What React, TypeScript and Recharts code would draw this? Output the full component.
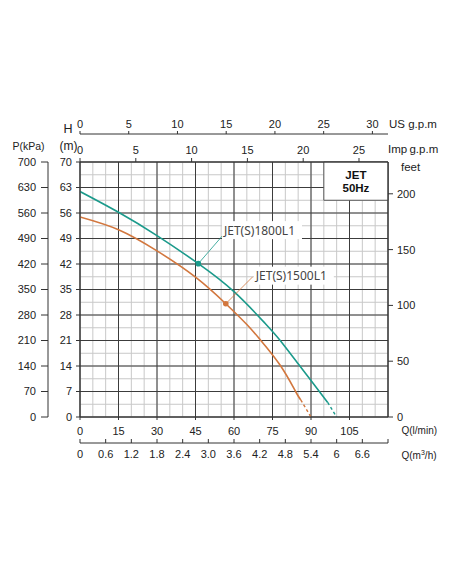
import React from "react";
import {
  LineChart,
  Line,
  XAxis,
  YAxis,
  CartesianGrid,
  ReferenceArea,
  ReferenceLine,
  ReferenceDot,
} from "recharts";

// axis ticks
const flowTicks = [0, 15, 30, 45, 60, 75, 90, 105];
const flowMinorTicks = [0, 5, 10, 15, 20, 25, 30, 35, 40, 45, 50, 55, 60, 65, 70, 75, 80, 85, 90, 95, 100, 105, 110, 115, 120];
const headTicks = [0, 7, 14, 21, 28, 35, 42, 49, 56, 63, 70];
const headMinorTicks = [0, 3.5, 7, 10.5, 14, 17.5, 21, 24.5, 28, 31.5, 35, 38.5, 42, 45.5, 49, 52.5, 56, 59.5, 63, 66.5, 70];
const kpaTicks = [0, 70, 140, 210, 280, 350, 420, 490, 560, 630, 700];
const feetTicks = [0, 50, 100, 150, 200];
const usGpmTicks = [0, 5, 10, 15, 20, 25, 30];
const impGpmTicks = [0, 5, 10, 15, 20, 25];
const m3Ticks = [0, 0.6, 1.2, 1.8, 2.4, 3.0, 3.6, 4.2, 4.8, 5.4, 6.0, 6.6, 7.2];
const m3Labels = ["0", "0.6", "1.2", "1.8", "2.4", "3.0", "3.6", "4.2", "4.8", "5.4", "6", "6.6", ""];

// pump curves, q in l/min, h in m
const jet1800 = [
  { q: 0, h: 61.9 },
  { q: 15, h: 56.2 },
  { q: 30, h: 49.8 },
  { q: 46.1, h: 42.1 },
  { q: 60, h: 34.4 },
  { q: 72, h: 25.8 },
  { q: 78, h: 21.0 },
  { q: 85, h: 14.6 },
  { q: 90, h: 10.0 },
  { q: 96.5, h: 4.0 },
];
const jet1800Tail = [
  { q: 96.5, h: 4.0 },
  { q: 100, h: 0 },
];
const jet1500 = [
  { q: 0, h: 54.9 },
  { q: 15, h: 51.4 },
  { q: 30, h: 45.6 },
  { q: 45, h: 38.4 },
  { q: 56.8, h: 31.1 },
  { q: 65, h: 25.4 },
  { q: 70, h: 21.4 },
  { q: 78, h: 14.2 },
  { q: 84, h: 7.0 },
  { q: 86, h: 4.7 },
];
const jet1500Tail = [
  { q: 86, h: 4.7 },
  { q: 90, h: 0 },
];

// duty point, leader end and text anchor for each curve
const callouts = [
  { name: "JET(S)1800L1", q: 46.1, h: 42.1, endQ: 55.8, endH: 50.0, textQ: 56.1, textH: 51.3, color: "#1b9a8b" },
  { name: "JET(S)1500L1", q: 56.8, h: 31.1, endQ: 67.3, endH: 38.5, textQ: 68.5, textH: 38.8, color: "#d2773e" },
];

const TEAL = "#1b9a8b";
const ORANGE = "#d2773e";
const AXIS = "#333";
const TEXT = "#222";
const FONT = '"Liberation Sans", Arial, sans-serif';

const tickStyle = { fontSize: 11, fill: TEXT };

function M3Tick(props: any) {
  const { x, y, payload } = props;
  const label = m3Labels[m3Ticks.indexOf(payload.value)];
  return (
    <g>
      <line x1={x} x2={x} y1={y - 7} y2={y - 11} stroke={AXIS} />
      <text x={x} y={y} dy="0.71em" textAnchor="middle" fontSize={11} fill={TEXT}>
        {label}
      </text>
    </g>
  );
}

function calloutShape(text: string) {
  return (p: any) => (
    <g>
      <rect x={p.cx - 2} y={p.cy - 9} width={80} height={18} fill="#fff" />
      <text
        x={p.cx}
        y={p.cy}
        dominantBaseline="central"
        fontFamily='"Noto Sans", sans-serif'
        fontSize={12}
        fill="#444"
      >
        {text}
      </text>
    </g>
  );
}

function jetLabel(props: any) {
  const { x, y, width, height } = props.viewBox;
  const cx = x + width / 2;
  const cy = y + height / 2;
  return (
    <g fontWeight="bold" fontSize={11.5} fill="#111" textAnchor="middle">
      <text x={cx} y={cy - 6.6} dominantBaseline="central">JET</text>
      <text x={cx} y={cy + 6.6} dominantBaseline="central">50Hz</text>
    </g>
  );
}

function Caption({ x, y, size = 11, align = "left", children }: any) {
  const shift = align === "center" ? "-50%" : align === "right" ? "-100%" : "0";
  return (
    <div
      style={{
        position: "absolute",
        left: x,
        top: y,
        transform: `translate(${shift}, -50%)`,
        fontSize: size,
        lineHeight: 1,
        whiteSpace: "nowrap",
        color: TEXT,
      }}
    >
      {children}
    </div>
  );
}

export default function App() {
  return (
    <div
      style={{
        position: "absolute",
        left: 0,
        top: 0,
        width: 452,
        height: 584,
        background: "#fff",
        fontFamily: FONT,
      }}
    >
      <LineChart
        width={452}
        height={584}
        data={jet1800}
        margin={{ top: 104, right: 24, bottom: 111, left: 8 }}
      >
        <XAxis
          xAxisId="x1_q"
          dataKey="q"
          type="number"
          domain={[0, 120]}
          allowDataOverflow
          ticks={flowTicks}
          interval={0}
          height={26}
          tickSize={3}
          tickMargin={7}
          stroke={AXIS}
          tick={tickStyle}
        />
        <XAxis
          xAxisId="x2_m3"
          dataKey="q"
          type="number"
          domain={[0, 7.2]}
          allowDataOverflow
          ticks={m3Ticks}
          interval={0}
          height={30}
          tickSize={0}
          tickMargin={7}
          tickLine={false}
          stroke={AXIS}
          tick={<M3Tick />}
        />
        <XAxis
          xAxisId="x3_imp"
          dataKey="q"
          orientation="top"
          type="number"
          domain={[0, 27.6]}
          allowDataOverflow
          ticks={impGpmTicks}
          interval={0}
          height={28}
          tickSize={4}
          tickMargin={4}
          stroke={AXIS}
          tick={tickStyle}
        />
        <XAxis
          xAxisId="x4_usg"
          dataKey="q"
          orientation="top"
          type="number"
          domain={[0, 31.6]}
          allowDataOverflow
          ticks={usGpmTicks}
          interval={0}
          height={30}
          tickSize={3}
          tickMargin={3}
          stroke={AXIS}
          tick={tickStyle}
        />
        <XAxis
          xAxisId="x9_minor"
          dataKey="q"
          hide
          height={0}
          type="number"
          domain={[0, 120]}
          allowDataOverflow
          ticks={flowMinorTicks}
          interval={0}
        />
        <YAxis
          yAxisId="y1_h"
          dataKey="h"
          type="number"
          domain={[0, 70]}
          allowDataOverflow
          ticks={headTicks}
          interval={0}
          width={32}
          tickSize={4}
          tickMargin={4}
          stroke={AXIS}
          tick={tickStyle}
        />
        <YAxis
          yAxisId="y2_p"
          dataKey="h"
          type="number"
          domain={[0, 700]}
          allowDataOverflow
          ticks={kpaTicks}
          interval={0}
          width={40}
          tickSize={7}
          tickMargin={5}
          stroke={AXIS}
          tick={tickStyle}
        />
        <YAxis
          yAxisId="y3_ft"
          dataKey="h"
          orientation="right"
          type="number"
          domain={[0, 228.5]}
          allowDataOverflow
          ticks={feetTicks}
          interval={0}
          width={40}
          tickSize={5}
          tickMargin={4}
          stroke={AXIS}
          tick={tickStyle}
        />
        <YAxis
          yAxisId="y9_hminor"
          dataKey="h"
          hide
          width={0}
          type="number"
          domain={[0, 70]}
          allowDataOverflow
          ticks={headMinorTicks}
          interval={0}
        />

        <CartesianGrid xAxisId="x9_minor" yAxisId="y9_hminor" stroke="#c8c8c8" />
        <CartesianGrid xAxisId="x1_q" yAxisId="y1_h" stroke="#3c3c3c" />

        <ReferenceArea
          xAxisId="x1_q"
          yAxisId="y1_h"
          x1={95}
          x2={120}
          y1={59.5}
          y2={70}
          fill="#fff"
          fillOpacity={1}
          stroke="#555"
          label={jetLabel}
        />

        <Line xAxisId="x1_q" yAxisId="y1_h" data={jet1800} dataKey="h" type="natural" stroke={TEAL} strokeWidth={1.6} dot={false} isAnimationActive={false} />
        <Line xAxisId="x1_q" yAxisId="y1_h" data={jet1800Tail} dataKey="h" type="linear" stroke={TEAL} strokeWidth={1.4} strokeDasharray="3 2.5" dot={false} isAnimationActive={false} />
        <Line xAxisId="x1_q" yAxisId="y1_h" data={jet1500} dataKey="h" type="natural" stroke={ORANGE} strokeWidth={1.6} dot={false} isAnimationActive={false} />
        <Line xAxisId="x1_q" yAxisId="y1_h" data={jet1500Tail} dataKey="h" type="linear" stroke={ORANGE} strokeWidth={1.4} strokeDasharray="3 2.5" dot={false} isAnimationActive={false} />

        {callouts.map((c) => (
          <ReferenceLine
            key={c.name + "-leader"}
            xAxisId="x1_q"
            yAxisId="y1_h"
            segment={[
              { x: c.q, y: c.h },
              { x: c.endQ, y: c.endH },
            ]}
            stroke={c.color}
            strokeWidth={0.8}
          />
        ))}
        {callouts.map((c) => (
          <ReferenceDot key={c.name + "-dot"} xAxisId="x1_q" yAxisId="y1_h" x={c.q} y={c.h} r={2.8} fill={c.color} stroke="none" />
        ))}
        {callouts.map((c) => (
          <ReferenceDot
            key={c.name + "-text"}
            xAxisId="x1_q"
            yAxisId="y1_h"
            x={c.textQ}
            y={c.textH}
            r={1}
            shape={calloutShape(c.name)}
          />
        ))}
      </LineChart>

      <Caption x={389} y={125} size={11.5}>US g.p.m</Caption>
      <Caption x={388} y={149.5} size={11.5}>Imp&thinsp;g.p.m</Caption>
      <Caption x={401} y={168} size={11.5}>feet</Caption>
      <Caption x={28.5} y={146} size={10.5} align="center">P(kPa)</Caption>
      <Caption x={68} y={128.5} size={12.5} align="center">H</Caption>
      <Caption x={68.5} y={146} size={12} align="center">(m)</Caption>
      <Caption x={401.5} y={430.5} size={10}>Q(l/min)</Caption>
      <Caption x={401.5} y={455} size={10}>
        Q(m<sup style={{ fontSize: 7, verticalAlign: "4px" }}>3</sup>/h)
      </Caption>
    </div>
  );
}
